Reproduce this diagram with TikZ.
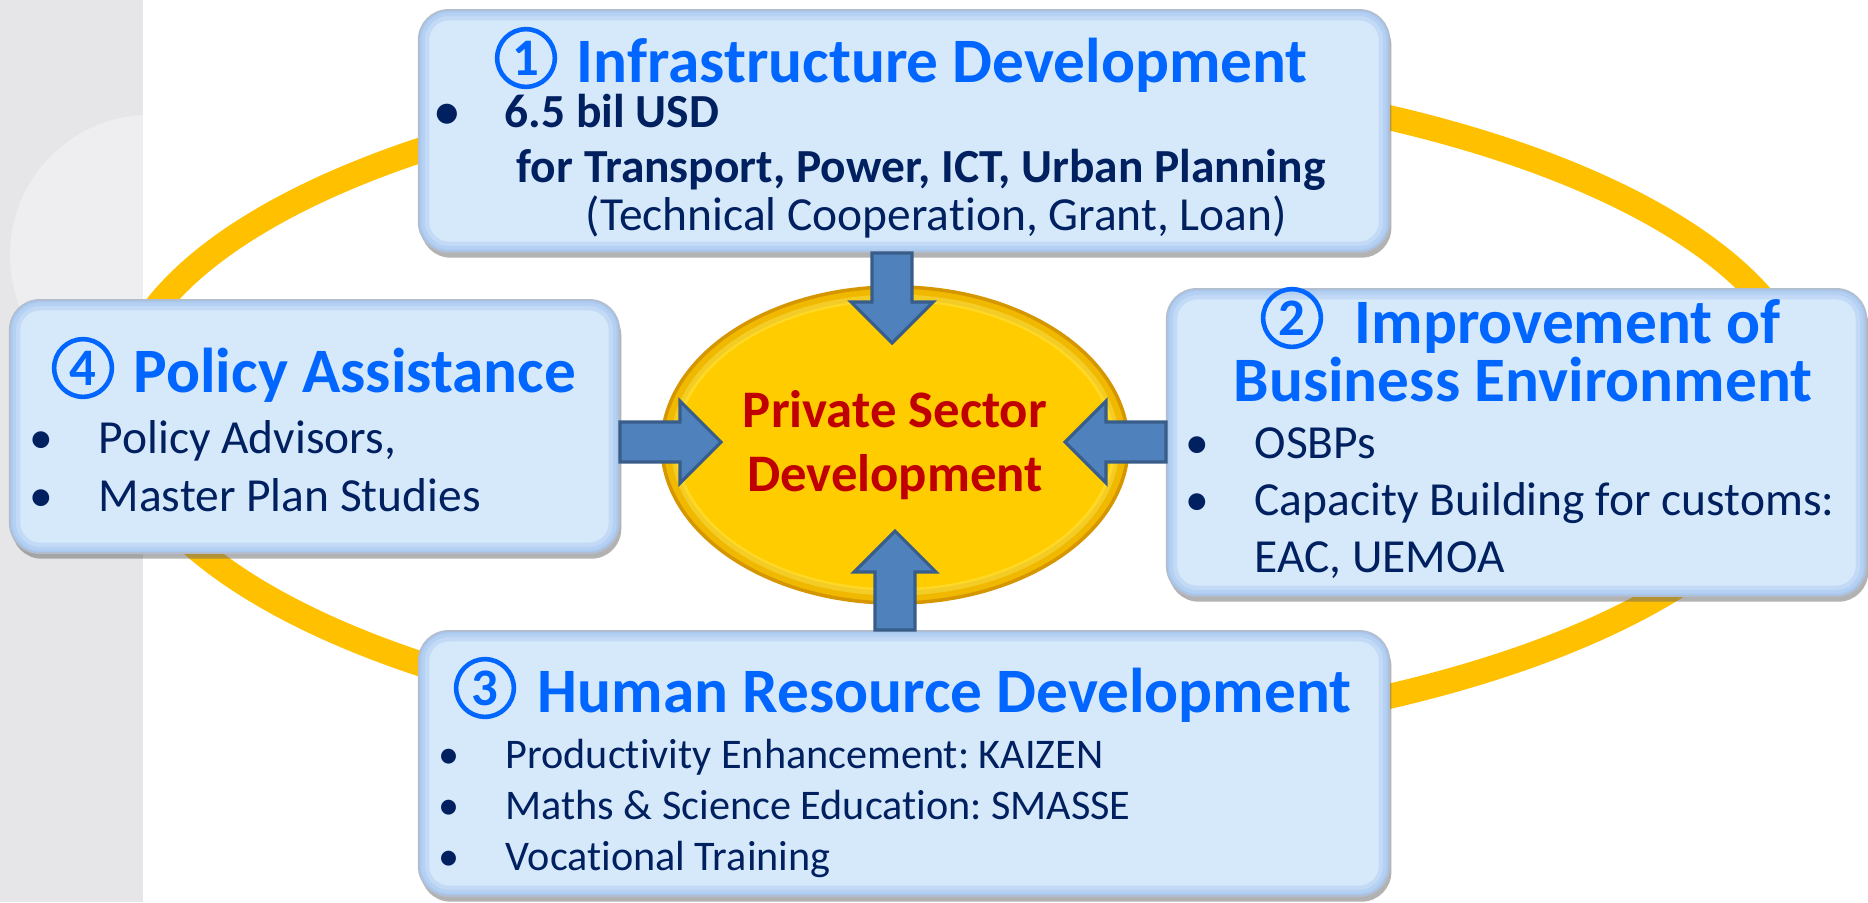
\documentclass[tikz,border=0pt]{standalone}
\usepackage{fontspec}
\setmainfont{Carlito}[Ligatures=NoCommon]
\usepackage{tikz}
\usetikzlibrary{shadows}
\usetikzlibrary{calc,positioning}
\usetikzlibrary{shapes.geometric}
\frenchspacing

\definecolor{stripgray}{RGB}{230,230,232}
\definecolor{ringgold}{RGB}{255,192,0}
\definecolor{panelfill}{RGB}{214,233,251}
\definecolor{paneledge}{RGB}{150,186,236}
\definecolor{panelline}{RGB}{178,190,208}
\definecolor{headblue}{RGB}{0,102,255}
\definecolor{navy}{RGB}{0,32,96}
\definecolor{hubgold}{RGB}{255,204,0}
\definecolor{hubrim}{RGB}{214,150,0}
\definecolor{hubred}{RGB}{192,0,0}
\definecolor{arrowfill}{RGB}{79,129,189}
\definecolor{arrowline}{RGB}{56,93,138}

\newcommand{\blt}{\llap{\textbullet\hspace{13pt}}}

\tikzset{
  panel/.style={draw=panelline, line width=0.5pt, fill=panelfill, rounded corners=8.5pt, inner sep=0pt,
    drop shadow={shadow xshift=0.6pt, shadow yshift=-1.6pt, fill=black!60, opacity=0.5},
    path picture={
      \foreach \w in {6,3.5,1.5}
        \draw[paneledge, opacity=0.3, line width=\w pt, rounded corners=8.5pt]
          (path picture bounding box.south west) rectangle (path picture bounding box.north east);
    }},
  head/.style={anchor=base west, inner sep=0pt, text=headblue, font=\fontsize{18}{22}\selectfont\bfseries},
  numcircle/.style={circle, draw=headblue, line width=1.3pt, minimum size=16.4pt, inner sep=0pt,
    text=headblue, font=\fontsize{15}{15}\selectfont\bfseries},
  body/.style={anchor=base west, inner sep=0pt, text=navy, font=\fontsize{13.5}{16}\selectfont},
  body bold/.style={body, font=\fontsize{13.5}{16}\selectfont\bfseries},
  small body/.style={body, font=\fontsize{12}{14}\selectfont},
  hub/.style={ellipse, fill=hubgold, draw=hubrim, line width=1pt, inner sep=0pt, text=hubred, align=center,
    font=\fontsize{15}{18}\selectfont\bfseries,
    path picture={
      \draw[hubrim, opacity=0.35, line width=7pt] (path picture bounding box.center) ellipse [x radius=233, y radius=158];
      \draw[yellow!50!white, opacity=0.3, line width=2pt] (path picture bounding box.center) ellipse [x radius=221, y radius=147];
    }},
  ring/.style={draw=ringgold, line width=0.25cm},
  blockarrow/.style={fill=arrowfill, draw=arrowline, line width=0.9pt, line join=miter,
    to path={($(\tikztostart)!0.2cm!90:(\tikztotarget)$)
      -- ($(\tikztotarget)!0.41cm!(\tikztostart)!0.2cm!90:(\tikztotarget)$)
      -- ($(\tikztotarget)!0.41cm!(\tikztostart)!0.41cm!90:(\tikztotarget)$)
      -- (\tikztotarget)
      -- ($(\tikztotarget)!0.41cm!(\tikztostart)!0.41cm!-90:(\tikztotarget)$)
      -- ($(\tikztotarget)!0.41cm!(\tikztostart)!0.2cm!-90:(\tikztotarget)$)
      -- ($(\tikztostart)!0.2cm!-90:(\tikztotarget)$) -- cycle}}
}

\begin{document}
\begin{tikzpicture}[x=0.01cm, y=-0.01cm]
  \useasboundingbox (0,0) rectangle (1868,902);
  \fill[white] (0,0) rectangle (1868,902);
  \fill[stripgray] (0,0) rectangle (143,902);
  \begin{scope}
    \clip (0,0) rectangle (143,902);
    \fill[white, opacity=0.35] (150,255) circle[radius=140];
  \end{scope}

  \draw[ring] (963,407) ellipse [x radius=845, y radius=335];

  \node[panel, minimum width=9.7cm, minimum height=2.42cm] (infra) at (904,131) {};
  \node[panel, minimum width=6.09cm, minimum height=2.53cm] (policy) at (314.5,426.5) {};
  \node[panel, minimum width=6.99cm, minimum height=3.07cm] (business) at (1516.5,442.5) {};
  \node[panel, minimum width=9.7cm, minimum height=2.65cm] (human) at (904,763.5) {};

  \node[hub, minimum width=4.66cm, minimum height=3.16cm] (psd) at (895,445) {Private Sector\\Development};

  \coordinate (tipn) at ($(psd)+(-3,-102)$);
  \coordinate (tips) at ($(psd)+(0,86)$);
  \coordinate (tipw) at ($(psd)+(-174,-3)$);
  \coordinate (tipe) at ($(psd)+(170,-3)$);
  \draw[blockarrow] (tipn |- infra.south) to (tipn);
  \draw[blockarrow] (tips |- human.north) to (tips);
  \draw[blockarrow] (policy.east |- tipw) to (tipw);
  \draw[blockarrow] (business.west |- tipe) to (tipe);

  % texts
  \node[head] (infra-head) at (576,82) {Infrastructure Development};
  \node[numcircle] (infra-num) at ($(infra-head.base west)+(-50,-24)$) {1};
  \node[body bold] (infra-a) at (504,127) {\blt 6.5 bil USD};
  \node[body bold] (infra-b) at (516,182) {for Transport, Power, ICT, Urban Planning};
  \node[body] (infra-c) at (585,230) {(Technical Cooperation, Grant, Loan)};

  \node[head] (business-head) at (1354,343) {Improvement of};
  \node[numcircle] (business-num) at ($(business-head.base west)+(-62,-25)$) {2};
  \node[head, anchor=base] (business-head2) at (1523,401) {Business Environment};
  \node[body] (business-a) at (1254,458) {\blt OSBPs};
  \node[body] (business-b) at (1254,515) {\blt Capacity Building for customs:};
  \node[body] (business-c) at (1254,572) {EAC, UEMOA};

  \node[head] (human-head) at (537,712) {Human Resource Development};
  \node[numcircle] (human-num) at ($(human-head.base west)+(-52,-24)$) {3};
  \node[small body] (human-a) at (505,768) {\blt Productivity Enhancement: KAIZEN};
  \node[small body] (human-b) at (505,819) {\blt Maths \& Science Education: SMASSE};
  \node[small body] (human-c) at (505,870) {\blt Vocational Training};

  \node[head] (policy-head) at (133,392) {Policy Assistance};
  \node[numcircle] (policy-num) at ($(policy-head.base west)+(-50,-24)$) {4};
  \node[body] (policy-a) at (98,453) {\blt Policy Advisors,};
  \node[body] (policy-b) at (98,511) {\blt Master Plan Studies};
\end{tikzpicture}
\end{document}
